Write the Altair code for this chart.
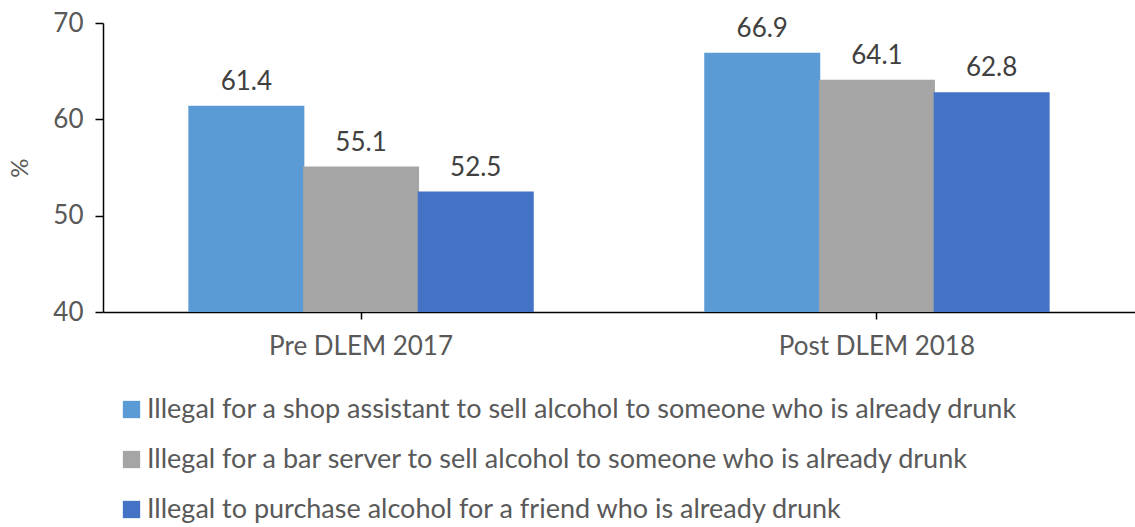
import altair as alt
import pandas as pd

groups = ["Pre DLEM 2017", "Post DLEM 2018"]
series = [
    "Illegal for a shop assistant to sell alcohol to someone who is already drunk",
    "Illegal for a bar server to sell alcohol to someone who is already drunk",
    "Illegal to purchase alcohol for a friend who is already drunk",
]
pre_values = [61.4, 55.1, 52.5]
post_values = [66.9, 64.1, 62.8]
colors = ["#5B9BD5", "#A5A5A5", "#4472C4"]
y_ticks = [40, 50, 60, 70]

rows = []
for g, vals in zip(groups, [pre_values, post_values]):
    for s, v in zip(series, vals):
        rows.append({"group": g, "series": s, "value": v, "label": f"{v:.1f}"})
df = pd.DataFrame(rows)

FONT = "Lato"
TXT = "#595959"

x = alt.X("group:N", sort=groups, title=None,
          scale=alt.Scale(paddingInner=0.333, paddingOuter=0.1667),
          axis=alt.Axis(labelAngle=0, labelFontSize=26, labelFont=FONT, labelColor=TXT,
                        labelPadding=14, labelLimit=500, domainColor="#000000", domainWidth=1.5,
                        tickColor="#000000", tickSize=7, tickWidth=1.5, ticks=True))
xo = alt.XOffset("series:N", sort=series, scale=alt.Scale(paddingInner=0, paddingOuter=0))
y = alt.Y("value:Q", title="%",
          scale=alt.Scale(domain=[40, 70], zero=False, nice=False),
          axis=alt.Axis(values=y_ticks, grid=False, labelFontSize=26, labelFont=FONT,
                        labelColor=TXT, labelPadding=12, titleFont=FONT, titleFontSize=24,
                        titleColor=TXT, titleFontWeight="normal", titlePadding=20,
                        domainColor="#000000", domainWidth=1.5, tickColor="#000000",
                        tickSize=8, tickWidth=1.5))

color = alt.Color("series:N", sort=series,
                  scale=alt.Scale(domain=series, range=colors),
                  legend=alt.Legend(title=None, orient="none", legendX=15, legendY=373,
                                    direction="vertical", symbolType="square",
                                    symbolSize=300, symbolStrokeWidth=0,
                                    labelFont=FONT, labelFontSize=27, labelColor=TXT,
                                    labelLimit=1200, rowPadding=22, labelOffset=2))

base = alt.Chart(df)
bars = base.mark_bar(size=116).encode(x=x, xOffset=xo, y=y, y2=alt.Y2(datum=40), color=color)
text = base.mark_text(baseline="alphabetic", dy=-16, font=FONT, fontSize=26, color="#404040").encode(
    x=x, xOffset=xo, y=y, text="label:N")

chart = (bars + text).properties(
    width=1032, height=289,
    background="white",
    autosize=alt.AutoSizeParams(type="none"),
    padding={"left": 103, "top": 23, "right": 0, "bottom": 215},
).configure_view(strokeWidth=0, stroke="transparent")

chart.save("out.html", embed_options={"renderer": "svg", "actions": False})
